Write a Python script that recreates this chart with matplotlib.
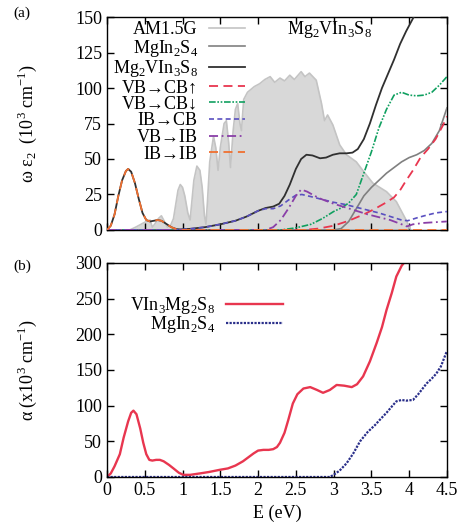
import numpy as np
import matplotlib
matplotlib.use('Agg')
import matplotlib.pyplot as plt

plt.rcParams['font.family'] = ['Liberation Serif', 'DejaVu Serif']
plt.rcParams['mathtext.fontset'] = 'custom'
plt.rcParams['mathtext.rm'] = 'Liberation Serif'
plt.rcParams['font.size'] = 13

# ---- panel (a): omega*eps2 contributions ----
E_sun = [0.30, 0.38, 0.45, 0.52, 0.57, 0.60, 0.63, 0.68, 0.72, 0.76, 0.80, 0.84, 0.88, 0.91,
         0.94, 0.97, 1.00, 1.03, 1.07, 1.10, 1.12, 1.15, 1.19, 1.23, 1.26, 1.29, 1.31, 1.33,
         1.36, 1.41, 1.44, 1.47, 1.50, 1.55, 1.58, 1.61, 1.635, 1.65, 1.67, 1.70, 1.73, 1.76,
         1.78, 1.81, 1.86, 1.95, 2.02, 2.09, 2.16, 2.22, 2.29, 2.35, 2.42, 2.48, 2.57, 2.62,
         2.68, 2.77, 2.84, 2.88, 2.92, 2.99, 3.08, 3.17, 3.30, 3.40, 3.52, 3.70, 3.83, 3.96,
         4.02]
sun = [0, 2, 4, 6, 7, 2, 4, 8, 10, 6, 2, 3, 8, 18,
       28, 32, 30, 24, 12, 7, 18, 35, 45, 42, 30, 10, 4, 20,
       48, 66, 58, 42, 58, 75, 77, 62, 44, 55, 70, 85, 89, 75,
       70, 92, 97, 101, 103, 106, 108, 104, 107, 105, 109, 106, 111.5, 108,
       110.5, 105.5, 89, 77, 81, 74, 60, 53, 48, 41, 33, 27, 20, 7,
       0]

E_ibib = [0, 0.05, 0.1, 0.15, 0.2, 0.25, 0.28, 0.32, 0.37, 0.42, 0.47, 0.52, 0.57, 0.62,
          0.67, 0.72, 0.78, 0.85, 0.92, 0.97, 1.5, 2.5, 3.5, 4.5]
ibib = [0, 3, 11, 24, 35, 41.5, 43, 41, 33, 22, 12, 7, 6, 6.5,
        7, 6.5, 4.5, 2, 0.5, 0, 0, 0, 0, 0]

E_tot = [0, 0.05, 0.1, 0.15, 0.2, 0.25, 0.28, 0.32, 0.37, 0.42, 0.47, 0.52, 0.57, 0.62,
         0.67, 0.72, 0.78, 0.85, 0.92, 0.97, 1.1, 1.3, 1.5, 1.7, 1.85, 2.0, 2.1, 2.2, 2.28,
         2.35, 2.42, 2.5, 2.57, 2.64, 2.72, 2.82, 2.9, 2.99, 3.08, 3.17, 3.25, 3.32, 3.4,
         3.48, 3.56, 3.64, 3.72, 3.8, 3.88, 3.96, 4.03, 4.08]
tot = [0, 3, 11, 24, 35, 41.5, 43, 41, 33, 22, 12, 7, 6, 6.5,
       7, 6.5, 4.5, 2, 0.6, 0.4, 0.8, 2, 4, 6.5, 9.5, 13.5, 15.5, 16.5, 18.5,
       24, 32, 43, 50, 53, 52.5, 50.5, 51, 53, 54, 54, 54.5, 57, 64,
       75, 88, 100, 110, 120, 131, 140, 147, 152]

E_mgin = [0, 3.0, 3.1, 3.2, 3.3, 3.4, 3.5, 3.6, 3.7, 3.8, 3.9, 4.0, 4.1, 4.2, 4.3, 4.4, 4.5]
mgin = [0, 0, 1, 6, 15, 24, 30, 35, 40, 44, 48, 51, 53, 56, 61, 70, 86]

E_up = [0, 2.6, 2.8, 3.0, 3.2, 3.4, 3.55, 3.7, 3.8, 3.88, 3.95, 4.05, 4.15, 4.25, 4.35, 4.45, 4.5]
vbcb_up = [0, 0, 1, 3, 6.5, 11, 15, 19.5, 23, 28, 34, 42, 51, 57, 64, 74, 80]

E_dn = [0, 2.3, 2.5, 2.7, 2.85, 3.0, 3.1, 3.2, 3.3, 3.4, 3.5, 3.6, 3.7, 3.8, 3.9, 4.0, 4.1,
        4.2, 4.3, 4.4, 4.5]
vbcb_dn = [0, 0, 1.5, 4, 8, 13, 15.5, 19, 25, 40, 55, 72, 85, 95, 97, 95, 94.5,
           95, 97, 102, 108]

E_ibcb = [0, 0.9, 1.1, 1.3, 1.5, 1.7, 1.85, 2.0, 2.1, 2.2, 2.3, 2.4, 2.5, 2.58, 2.7, 2.85,
          3.0, 3.15, 3.3, 3.45, 3.6, 3.75, 3.9, 3.98, 4.1, 4.2, 4.35, 4.5]
ibcb = [0, 0, 0.8, 2, 4, 6.5, 9.5, 13.5, 15, 15, 17, 21, 24.5, 25, 23.5, 21.5,
        19.5, 18, 16, 14, 12, 9.5, 7, 6.5, 8.5, 10, 12, 13]

E_vbib = [0, 2.1, 2.2, 2.3, 2.4, 2.5, 2.57, 2.65, 2.75, 2.85, 3.0, 3.15, 3.3, 3.45, 3.6,
          3.75, 3.9, 3.97, 4.05, 4.2, 4.35, 4.5]
vbib = [0, 0, 2, 7, 15, 24, 28.5, 27, 24, 21.5, 18.5, 16, 13.5, 11, 9,
        7, 4, 2.5, 4, 5, 5.5, 6]

# ---- panel (b): absorption coefficient ----
E_abs = [0, 0.05, 0.1, 0.17, 0.22, 0.28, 0.32, 0.35, 0.39, 0.44, 0.48, 0.52, 0.56, 0.6,
         0.65, 0.7, 0.75, 0.82, 0.88, 0.95, 1.01, 1.1, 1.23, 1.35, 1.49, 1.6, 1.7, 1.8,
         1.94, 2.0, 2.07, 2.14, 2.2, 2.25, 2.29, 2.35, 2.4, 2.46, 2.52, 2.6, 2.69, 2.78,
         2.86, 2.95, 3.04, 3.14, 3.24, 3.31, 3.39, 3.48, 3.57, 3.64, 3.7, 3.77, 3.83,
         3.9, 3.96]
abs_vin = [0, 5, 15, 32, 55, 78, 90, 93, 88, 68, 48, 32, 24, 23,
           24, 24, 22, 17, 12, 6, 3, 3, 5, 7, 10, 12, 16, 22,
           33, 37, 38, 38, 39, 42, 48, 62, 80, 103, 116, 124, 126, 122,
           118, 122, 129, 128, 126, 130, 141, 162, 188, 210, 234, 258, 281,
           296, 304]

E_mgin_abs = [0, 2.95, 3.0, 3.08, 3.17, 3.26, 3.35, 3.45, 3.55, 3.61, 3.7, 3.78, 3.83, 3.9,
              3.96, 4.05, 4.12, 4.23, 4.3, 4.36, 4.42, 4.49, 4.5]
abs_mgin = [0, 0, 3, 9, 19, 33, 50, 63, 73, 80, 90, 100, 106, 108,
            107, 108, 116, 131, 138, 145, 155, 174, 176]

xticks = [0, 0.5, 1, 1.5, 2, 2.5, 3, 3.5, 4, 4.5]
xticklabels = ['0', '0.5', '1', '1.5', '2', '2.5', '3', '3.5', '4', '4.5']

fig = plt.figure(figsize=(4.6, 5.27), dpi=100)
ax1 = fig.add_axes([0.2326, 0.5636, 0.739, 0.4041])
ax2 = fig.add_axes([0.2326, 0.0949, 0.739, 0.4061])

# panel (a)
ax1.fill_between(E_sun, sun, 0, color='#d8d8d8', lw=0, zorder=1)
ax1.plot(E_sun, sun, color='#c4c4c4', lw=1.2, label='AM1.5G', zorder=2)
ax1.plot(E_mgin, mgin, color='#808080', lw=1.2, label=r'MgIn$_{\mathrm{2}}$S$_{\mathrm{4}}$', zorder=3)
ax1.plot(E_tot, tot, color='#303030', lw=1.3, label=r'Mg$_{\mathrm{2}}$VIn$_{\mathrm{3}}$S$_{\mathrm{8}}$', zorder=3)
ax1.plot(E_up, vbcb_up, color='#e8364f', lw=1.3, ls=(0, (5, 3)), label='VB→CB↑', zorder=4)
ax1.plot(E_dn, vbcb_dn, color='#10a060', lw=1.2, ls=(0, (4, 1, 1, 1, 1, 1)), label='VB→CB↓', zorder=4)
ax1.plot(E_ibcb, ibcb, color='#5a50c0', lw=1.2, ls=(0, (3, 2)), label='IB→CB', zorder=4)
ax1.plot(E_vbib, vbib, color='#8a3fa8', lw=1.3, ls=(0, (5, 2, 1, 2)), label='VB→IB', zorder=4)
ax1.plot(E_ibib, ibib, color='#f07030', lw=1.3, ls=(0, (5, 3)), label='IB→IB', zorder=5)

ax1.set_xlim(0, 4.5)
ax1.set_ylim(0, 150)
ax1.set_yticks([0, 25, 50, 75, 100, 125, 150])
ax1.set_xticks(xticks)
ax1.set_xticklabels([])
ax1.set_ylabel(r'ω ε$_{\mathrm{2}}$  (10$^{\mathrm{3}}$ cm$^{\mathrm{-1}}$)')
ax1.yaxis.set_label_coords(-0.2, 0.5)
ax1.text(2.95, 141, r'Mg$_{\mathrm{2}}$VIn$_{\mathrm{3}}$S$_{\mathrm{8}}$', ha='center', va='center')
ax1.legend(loc='upper left', bbox_to_anchor=(-0.02, 1.04), frameon=False, markerfirst=False,
           handlelength=2.0, handletextpad=0.6, labelspacing=-0.02, borderpad=0.2)

# panel (b)
ax2.plot(E_abs, abs_vin, color='#e8364f', lw=1.7, label=r'VIn$_{\mathrm{3}}$Mg$_{\mathrm{2}}$S$_{\mathrm{8}}$')
ax2.plot(E_mgin_abs, abs_mgin, color='#2a2f8a', lw=1.6, ls=(0, (1, 0.6)),
         label=r'MgIn$_{\mathrm{2}}$S$_{\mathrm{4}}$')
ax2.set_xlim(0, 4.5)
ax2.set_ylim(0, 300)
ax2.set_yticks([0, 50, 100, 150, 200, 250, 300])
ax2.set_xticks(xticks)
ax2.set_xticklabels(xticklabels)
ax2.set_xlabel('E (eV)')
ax2.set_ylabel(r'α (x10$^{\mathrm{3}}$ cm$^{\mathrm{-1}}$)')
ax2.yaxis.set_label_coords(-0.2, 0.5)
ax2.legend(loc='upper left', bbox_to_anchor=(0.03, 0.91), frameon=False, markerfirst=False,
           handlelength=3.2, handletextpad=0.6, labelspacing=-0.08, borderpad=0.2)

for ax in (ax1, ax2):
    ax.tick_params(direction='in', top=True, right=True, length=5, width=1)
    for s in ax.spines.values():
        s.set_linewidth(1.0)

fig.text(0.048, 0.975, '(a)', fontsize=11, ha='center', va='center')
fig.text(0.048, 0.495, '(b)', fontsize=11, ha='center', va='center')

fig.savefig('out.png', dpi=100)
